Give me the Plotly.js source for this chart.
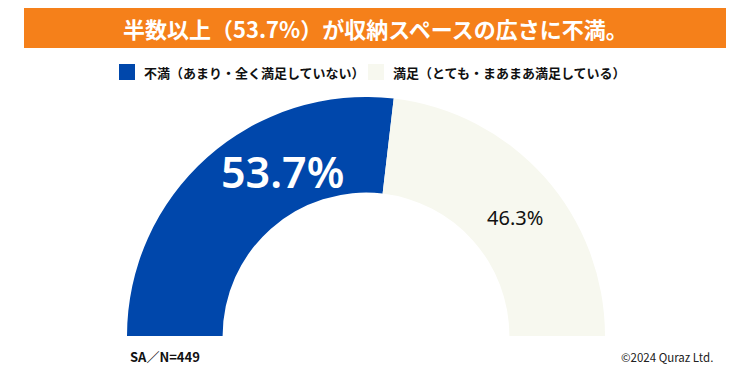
<!DOCTYPE html>
<html>
<head>
<meta charset="utf-8">
<script src="https://cdn.plot.ly/plotly-3.0.1.min.js"></script>
<style>
html, body { margin: 0; padding: 0; width: 750px; height: 370px; overflow: hidden; background: #fff; }
#wrap { width: 750px; height: 370px; overflow: hidden; position: relative; }
#chart { width: 750px; height: 700px; }
</style>
</head>
<body>
<div id="wrap"><div id="chart"></div></div>
<script>
// ---- data ----
const titleText = '半数以上（53.7%）が収納スペースの広さに不満。';
const categories = ['不満（あまり・全く満足していない）', '満足（とても・まあまあ満足している）'];
const values = [53.7, 46.3];
const colors = ['#0047AB', '#F7F8EF'];
const sampleNote = 'SA／N=449';
const credit = '©2024 Quraz Ltd.';

// ---- layout helpers (pixel -> paper) ----
const W = 750, H = 700;
const px = x => x / W;
const py = y => (H - y) / H;

const cx = 366, cy = 336, R = 239;
const total = values.reduce((a, b) => a + b, 0);

const trace = {
  type: 'pie',
  values: [...values, total],
  labels: [...categories, 'hidden'],
  marker: { colors: [...colors, 'rgba(0,0,0,0)'], line: { width: 0 } },
  sort: false,
  direction: 'clockwise',
  rotation: -90,
  hole: 0.6,
  textinfo: 'none',
  hoverinfo: 'skip',
  showlegend: false,
  domain: { x: [px(cx - R), px(cx + R)], y: [py(cy + R), py(cy - R)] }
};

const font = 'Noto Sans CJK JP, Noto Sans, sans-serif';

const shapes = [
  { type: 'rect', xref: 'paper', yref: 'paper', x0: px(24), x1: px(726), y0: py(48), y1: py(8),
    fillcolor: '#F5801A', line: { width: 0 }, layer: 'below' },
  { type: 'rect', xref: 'paper', yref: 'paper', x0: px(119), x1: px(135), y0: py(80), y1: py(64),
    fillcolor: colors[0], line: { width: 0 } },
  { type: 'rect', xref: 'paper', yref: 'paper', x0: px(368), x1: px(384), y0: py(80), y1: py(64),
    fillcolor: colors[1], line: { width: 0 } }
];

const annotations = [
  { text: '<b>' + titleText + '</b>', x: px(375), y: py(28), xref: 'paper', yref: 'paper',
    showarrow: false, font: { family: font, size: 22, color: '#ffffff' }, xanchor: 'center', yanchor: 'middle' },
  { text: '<b>' + categories[0] + '</b>', x: px(142), y: py(72), xref: 'paper', yref: 'paper',
    showarrow: false, font: { family: font, size: 13, color: '#111111' }, xanchor: 'left', yanchor: 'middle' },
  { text: '<b>' + categories[1] + '</b>', x: px(391), y: py(72), xref: 'paper', yref: 'paper',
    showarrow: false, font: { family: font, size: 13, color: '#111111' }, xanchor: 'left', yanchor: 'middle' },
  { text: values[0].toFixed(1) + '%', x: px(282), y: py(172), xref: 'paper', yref: 'paper',
    showarrow: false, font: { family: 'Noto Sans, sans-serif', size: 43, color: '#ffffff', weight: 600 }, xanchor: 'center', yanchor: 'middle' },
  { text: values[1].toFixed(1) + '%', x: px(515), y: py(218), xref: 'paper', yref: 'paper',
    showarrow: false, font: { family: 'Noto Sans, sans-serif', size: 20, color: '#111111' }, xanchor: 'center', yanchor: 'middle' },
  { text: '<b>' + sampleNote + '</b>', x: px(128), y: py(356), xref: 'paper', yref: 'paper',
    showarrow: false, font: { family: font, size: 13, color: '#111111' }, xanchor: 'left', yanchor: 'middle' },
  { text: credit, x: px(715), y: py(357), xref: 'paper', yref: 'paper',
    showarrow: false, font: { family: font, size: 11.5, color: '#222222' }, xanchor: 'right', yanchor: 'middle' }
];

const layout = {
  width: W, height: H,
  margin: { l: 0, r: 0, t: 0, b: 0 },
  paper_bgcolor: '#ffffff',
  showlegend: false,
  shapes, annotations
};

Plotly.newPlot('chart', [trace], layout, { displayModeBar: false, staticPlot: true });
</script>
</body>
</html>
